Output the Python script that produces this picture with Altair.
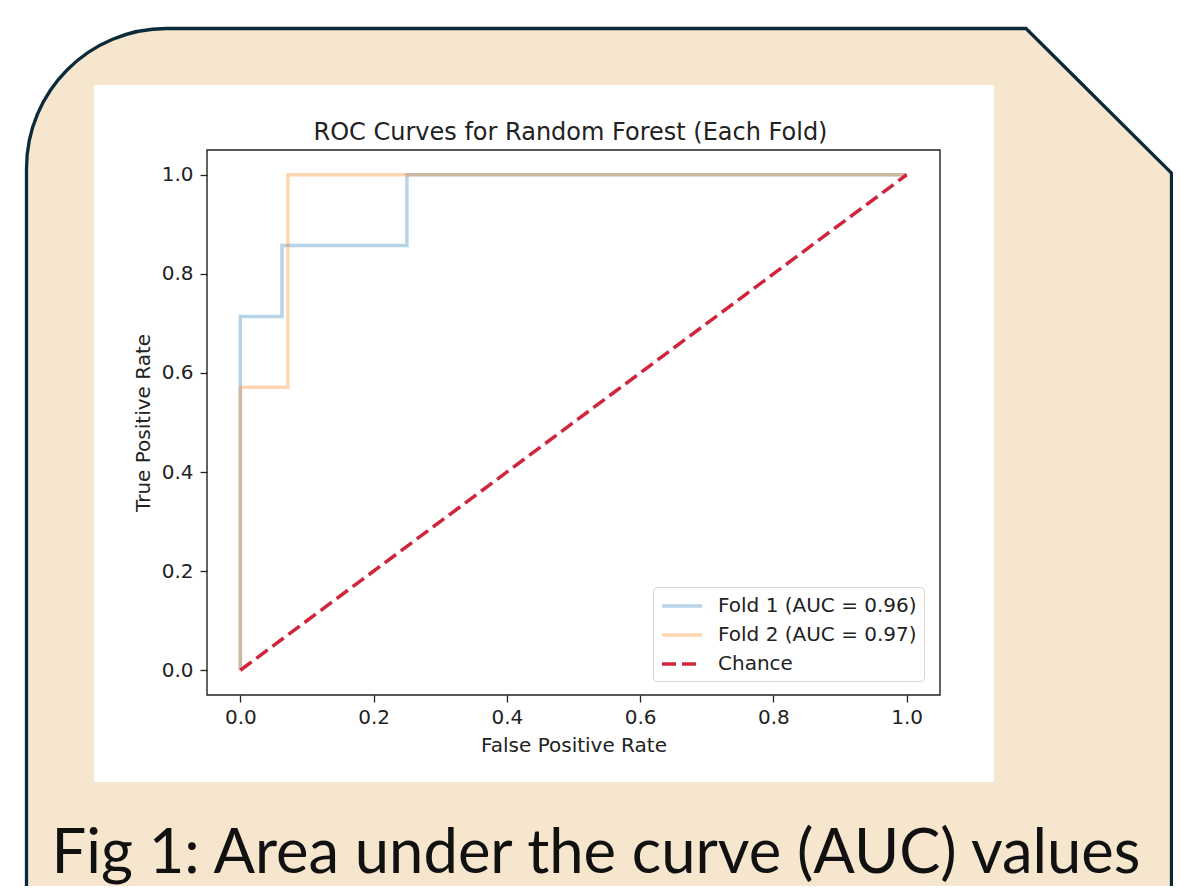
import altair as alt
import pandas as pd

# ---- data ----
series_names = ["Fold 1 (AUC = 0.96)", "Fold 2 (AUC = 0.97)", "Chance"]
fold1_fpr = [0.0, 0.0, 0.0625, 0.0625, 0.25, 0.25, 1.0]
fold1_tpr = [0.0, 0.714, 0.714, 0.857, 0.857, 1.0, 1.0]
fold2_fpr = [0.0, 0.0, 0.0714, 0.0714, 1.0]
fold2_tpr = [0.0, 0.571, 0.571, 1.0, 1.0]
chance_fpr = [0.0, 1.0]
chance_tpr = [0.0, 1.0]
tick_values = [0.0, 0.2, 0.4, 0.6, 0.8, 1.0]

series_colors = ["rgba(31,119,180,0.32)", "rgba(255,127,14,0.32)", "#cf263c"]
series_dash = [[1, 0], [1, 0], [14, 6]]

title_text = "ROC Curves for Random Forest (Each Fold)"
caption_text = "Fig 1: Area under the curve (AUC) values"

rows = []
for name, xs, ys in [(series_names[0], fold1_fpr, fold1_tpr),
                     (series_names[1], fold2_fpr, fold2_tpr),
                     (series_names[2], chance_fpr, chance_tpr)]:
    for i, (a, b) in enumerate(zip(xs, ys)):
        rows.append({"series": name, "fpr": a, "tpr": b, "idx": i})
df = pd.DataFrame(rows)

# ---- layout (plot area origin at page (207,150)) ----
W, H = 733, 545
one = pd.DataFrame({"k": [0]})

panel_path = ("M-5.735,4.4 L-5.735,-3.115 C-5.735,-3.888 -5.108,-4.515 -4.335,-4.515 "
              "L4.26,-4.515 L5.715,-3.07 L5.715,4.4 Z")

panel = alt.Chart(one).mark_point(
    shape=panel_path, filled=True, fill="#F6E6CE", stroke="#0b2b3b",
    strokeWidth=3.3, opacity=1, fillOpacity=1, strokeOpacity=1
).encode(x=alt.value(393), y=alt.value(330), size=alt.value(40000))

white_box = alt.Chart(one).mark_rect(fill="white", opacity=1).encode(
    x=alt.value(-113), x2=alt.value(787), y=alt.value(-65), y2=alt.value(632))

caption = alt.Chart(one).mark_text(
    font="Lato", fontSize=61.5, color="#111111", align="center", baseline="alphabetic"
).encode(x=alt.value(389), y=alt.value(723), text=alt.value(caption_text))

plot_title = alt.Chart(one).mark_text(
    font="DejaVu Sans", fontSize=24, color="#222222", align="center", baseline="alphabetic"
).encode(x=alt.value(W / 2 - 3), y=alt.value(-10), text=alt.value(title_text))

x_scale = alt.Scale(domain=[-0.05, 1.05], nice=False, zero=False)
y_scale = alt.Scale(domain=[-0.05, 1.05], nice=False, zero=False)

lines = alt.Chart(df).mark_line(strokeWidth=3.5, strokeCap="butt").encode(
    x=alt.X("fpr:Q", scale=x_scale,
            axis=alt.Axis(values=tick_values, format=".1f", title="False Positive Rate",
                          titlePadding=8, labelPadding=5, zindex=1)),
    y=alt.Y("tpr:Q", scale=y_scale,
            axis=alt.Axis(values=tick_values, format=".1f", title="True Positive Rate",
                          titlePadding=8, labelPadding=7, zindex=1)),
    color=alt.Color("series:N", scale=alt.Scale(domain=series_names, range=series_colors),
                    sort=series_names, title=None),
    strokeDash=alt.StrokeDash("series:N", scale=alt.Scale(domain=series_names, range=series_dash),
                              sort=series_names, title=None),
    order="idx:Q",
)

frame = alt.Chart(one).mark_rect(fillOpacity=0, stroke="#222222", strokeWidth=1.4).encode(
    x=alt.value(0), x2=alt.value(W), y=alt.value(0), y2=alt.value(H))

chart = alt.layer(panel, white_box, caption, plot_title, lines, frame).properties(
    width=W, height=H,
    autosize=alt.AutoSizeParams(type="none"),
    padding={"left": 199, "top": 142, "right": 233, "bottom": 191},
).configure_view(stroke=None, fill=None).configure_axis(
    labelFont="DejaVu Sans", labelFontSize=20, labelColor="#222222",
    titleFont="DejaVu Sans", titleFontSize=20, titleFontWeight="normal", titleColor="#222222",
    tickSize=7, tickColor="#222222", tickWidth=1.3,
    domain=False, grid=False,
).configure_legend(
    orient="none", legendX=446, legendY=437, fillColor="white", strokeColor="#d5d5d5",
    cornerRadius=4, padding=7, labelFont="DejaVu Sans", labelFontSize=20, labelColor="#222222",
    symbolType="M0,0L4,0", symbolSize=400, symbolOffset=-10, symbolStrokeWidth=3.5,
    labelOffset=44, rowPadding=7, labelLimit=400, zindex=2,
)

chart.save("out.html", embed_options={"renderer": "svg", "actions": False})
